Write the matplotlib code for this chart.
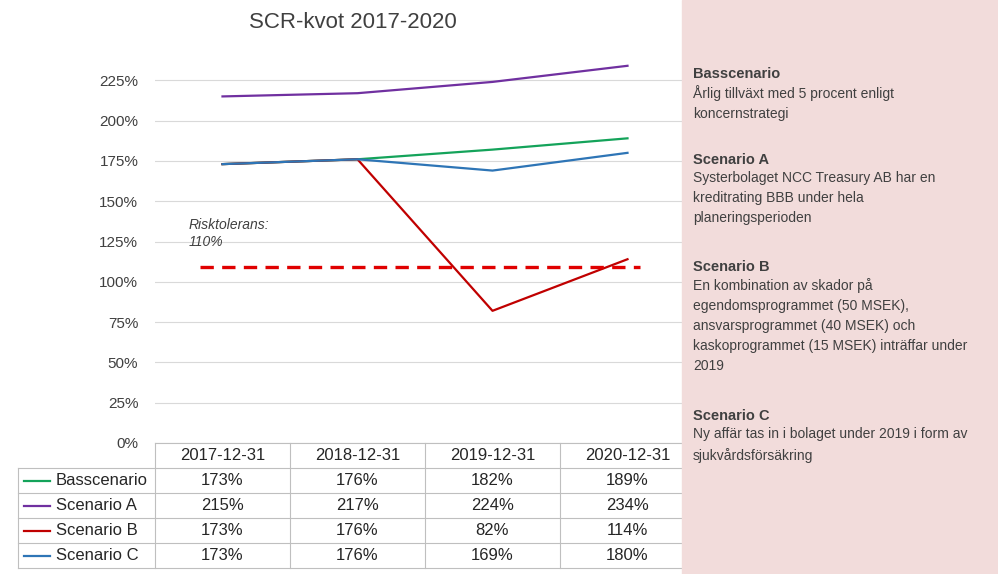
import matplotlib
matplotlib.use("Agg")
import matplotlib.pyplot as plt
from matplotlib.lines import Line2D
from matplotlib.patches import Rectangle

dates = ["2017-12-31", "2018-12-31", "2019-12-31", "2020-12-31"]
series_names = ["Basscenario", "Scenario A", "Scenario B", "Scenario C"]
bas = [173, 176, 182, 189]
scen_a = [215, 217, 224, 234]
scen_b = [173, 176, 82, 114]
scen_c = [173, 176, 169, 180]
risk_tol = 109
colors = ["#14a35a", "#7030a0", "#c00000", "#2e75b6"]
yticks = [0, 25, 50, 75, 100, 125, 150, 175, 200, 225]

W, H = 998, 574
plt.rcParams["font.family"] = ["Liberation Sans", "DejaVu Sans"]
fig = plt.figure(figsize=(W / 100, H / 100), dpi=100)


def fx(px):
    return px / W


def fy(py):
    return 1 - py / H


# plot area: x 155..695, y 443 (0%) .. 40 (250%)
ax = fig.add_axes([fx(155), fy(443), fx(695 - 155), (443 - 40) / H])
ax.patch.set_visible(False)
x = list(range(len(dates)))
for vals, c in zip([bas, scen_a, scen_b, scen_c], colors):
    ax.plot(x, vals, color=c, lw=1.6)
ax.plot([-0.17, 3.09], [risk_tol, risk_tol], color="#e00000", lw=2.4, ls=(0, (4, 2.5)))
ax.text(-0.25, 130, "Risktolerans:\n110%", fontsize=10, style="italic", color="#404040",
        va="center", ha="left", linespacing=1.3)
ax.set_xlim(-0.5, 3.5)
ax.set_ylim(0, 250)
ax.set_yticks(yticks)
ax.set_yticklabels([f"{v}%" for v in yticks], fontsize=11, color="#404040")
ax.set_xticks([])
ax.grid(axis="y", color="#d9d9d9", lw=0.8)
ax.tick_params(length=0, pad=12)
for s in ax.spines.values():
    s.set_visible(False)
ax.set_axisbelow(True)
fig.text(fx(353), fy(22), "SCR-kvot 2017-2020", fontsize=16, ha="center", va="center", color="#404040")

# data table
col_edges = [155, 290, 425, 560, 695]
row_edges = [443, 468, 493, 518, 543, 568]
lc = "#bfbfbf"
for xe in col_edges:
    fig.add_artist(Line2D([fx(xe)] * 2, [fy(443), fy(568)], color=lc, lw=0.8, zorder=0.2))
fig.add_artist(Line2D([fx(18)] * 2, [fy(468), fy(568)], color=lc, lw=0.8, zorder=0.2))
for i, ye in enumerate(row_edges):
    x0 = 155 if i == 0 else 18
    fig.add_artist(Line2D([fx(x0), fx(695)], [fy(ye)] * 2, color=lc, lw=0.8, zorder=0.2))
for j, d in enumerate(dates):
    cx = (col_edges[j] + col_edges[j + 1]) / 2
    fig.text(fx(cx), fy(456), d, fontsize=12, ha="center", va="center", color="#262626")
for i, (name, vals, c) in enumerate(zip(series_names, [bas, scen_a, scen_b, scen_c], colors)):
    cy = (row_edges[i + 1] + row_edges[i + 2]) / 2
    fig.add_artist(Line2D([fx(24), fx(50)], [fy(cy)] * 2, color=c, lw=1.6))
    fig.text(fx(56), fy(cy), name, fontsize=12, va="center", color="#262626")
    for j, v in enumerate(vals):
        cx = (col_edges[j] + col_edges[j + 1]) / 2
        fig.text(fx(cx), fy(cy), f"{v}%", fontsize=12, ha="center", va="center", color="#262626")

# side panel (drawn over the table's right edge, as in the original)
fig.add_artist(Rectangle((fx(682), 0), fx(W - 682), 1, color="#f2dcdb", zorder=0.5))
panel = [
    ("Basscenario", "Årlig tillväxt med 5 procent enligt\nkoncernstrategi", 74),
    ("Scenario A", "Systerbolaget NCC Treasury AB har en\nkreditrating BBB under hela\nplaneringsperioden", 160),
    ("Scenario B", "En kombination av skador på\negendomsprogrammet (50 MSEK),\nansvarsprogrammet (40 MSEK) och\n"
                   "kaskoprogrammet (15 MSEK) inträffar under\n2019", 267),
    ("Scenario C", "Ny affär tas in i bolaget under 2019 i form av\nsjukvårdsförsäkring", 416),
]
for head, body, y in panel:
    fig.text(fx(693), fy(y), head, fontsize=10.5, weight="bold", color="#404040", va="center", zorder=2)
    fig.text(fx(693), fy(y + 11), body, fontsize=10, color="#404040", va="top", linespacing=1.55, zorder=2)

fig.savefig("out.png", dpi=100)
